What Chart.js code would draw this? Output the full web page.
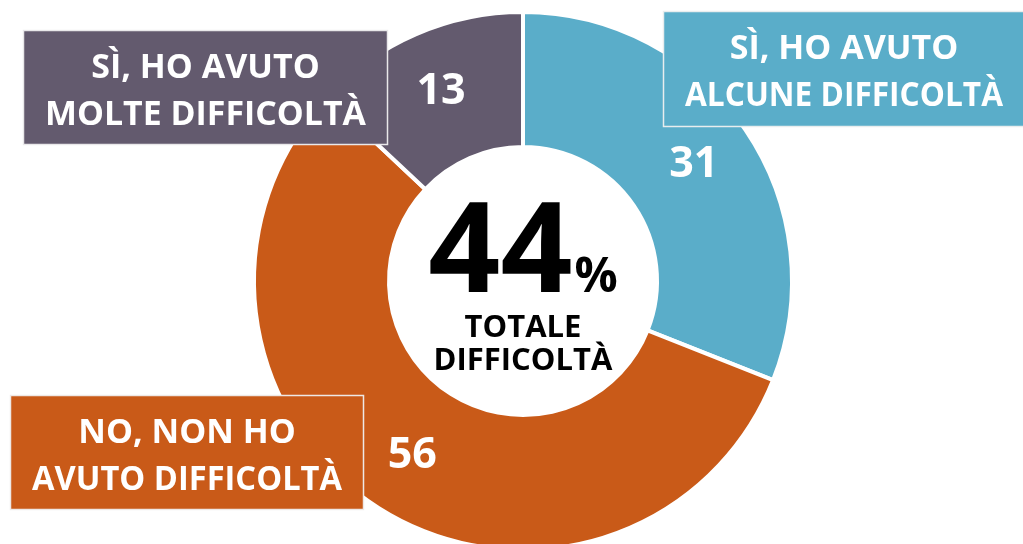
<!DOCTYPE html>
<html>
<head>
<meta charset="utf-8">
<script src="https://cdn.jsdelivr.net/npm/chart.js@4/dist/chart.umd.min.js"></script>
<style>
    html, body { margin: 0; padding: 0; background: #fff; overflow: hidden; }
    #wrap { width: 1023px; height: 544px; overflow: hidden; }
</style>
</head>
<body>
<div id="wrap"><canvas id="donut" width="1023" height="562"></canvas></div>
<script>
// Data
const categories = ['SÌ, HO AVUTO ALCUNE DIFFICOLTÀ', 'NO, NON HO AVUTO DIFFICOLTÀ', 'SÌ, HO AVUTO MOLTE DIFFICOLTÀ'];
const labelLines = [
    ['SÌ, HO AVUTO', 'ALCUNE DIFFICOLTÀ'],
    ['NO, NON HO', 'AVUTO DIFFICOLTÀ'],
    ['SÌ, HO AVUTO', 'MOLTE DIFFICOLTÀ']
];
const values = [31, 56, 13];
const colors = ['#5aadc9', '#c95a18', '#635a6e'];
const totalValue = values[0] + values[2];   // 44
const totalLines = ['TOTALE', 'DIFFICOLTÀ'];

// Label boxes (x, y, w, h) next to the ring
const boxes = [
    { x: 663, y: 11, w: 362, h: 116 },
    { x: 10, y: 395, w: 354, h: 115 },
    { x: 23, y: 30, w: 365, h: 115 }
];

const FONT = '"Open Sans", sans-serif';

const labelPlugin = {
    id: 'labelPlugin',
    afterDraw(chart) {
        const ctx = chart.ctx;
        const meta = chart.getDatasetMeta(0);
        ctx.save();

        // boxes with category names
        boxes.forEach((b, i) => {
            ctx.fillStyle = colors[i];
            ctx.fillRect(b.x, b.y, b.w, b.h);
            ctx.strokeStyle = 'rgba(240,240,240,0.95)';
            ctx.lineWidth = 1.5;
            ctx.strokeRect(b.x + 0.5, b.y + 0.5, b.w - 1, b.h - 1);
            ctx.fillStyle = '#fff';
            ctx.font = 'bold 34px ' + FONT;
            ctx.textAlign = 'center';
            ctx.textBaseline = 'alphabetic';
            const cx = b.x + b.w / 2;
            const mid = b.y + b.h / 2;
            ctx.fillText(labelLines[i][0], cx, mid - 10, b.w - 44);
            ctx.fillText(labelLines[i][1], cx, mid + 37, b.w - 44);
        });

        // values on the slices
        meta.data.forEach((arc, i) => {
            const p = arc.getProps(['x', 'y', 'startAngle', 'endAngle', 'innerRadius', 'outerRadius'], true);
            const mid = (p.startAngle + p.endAngle) / 2;
            const r = (p.innerRadius + p.outerRadius) / 2 + 5;
            ctx.fillStyle = '#fff';
            ctx.font = 'bold 43px ' + FONT;
            ctx.textAlign = 'center';
            ctx.textBaseline = 'middle';
            ctx.fillText(String(values[i]), p.x + Math.cos(mid) * r, p.y + Math.sin(mid) * r);
        });

        // centre total
        const c = meta.data[0].getProps(['x', 'y'], true);
        ctx.fillStyle = '#000';
        ctx.textBaseline = 'alphabetic';
        ctx.font = 'bold 126px ' + FONT;
        const big = String(totalValue);
        const bw = ctx.measureText(big).width;
        ctx.font = 'bold 48px ' + FONT;
        const pw = ctx.measureText('%').width;
        const startX = c.x - (bw + pw + 2) / 2;
        ctx.textAlign = 'left';
        ctx.font = 'bold 126px ' + FONT;
        ctx.fillText(big, startX, c.y + 11);
        ctx.font = 'bold 48px ' + FONT;
        ctx.fillText('%', startX + bw + 2, c.y + 11);
        ctx.textAlign = 'center';
        ctx.font = 'bold 31px ' + FONT;
        ctx.fillText(totalLines[0], c.x, c.y + 56);
        ctx.fillText(totalLines[1], c.x, c.y + 89);
        ctx.restore();
    }
};

new Chart(document.getElementById('donut'), {
    type: 'doughnut',
    data: {
        labels: categories,
        datasets: [{
            data: values,
            backgroundColor: colors,
            borderColor: '#ffffff',
            borderWidth: 4,
            hoverOffset: 0
        }]
    },
    options: {
        responsive: false,
        devicePixelRatio: 1,
        animation: false,
        cutout: 134,
        layout: { padding: { left: 252, right: 229, top: 10, bottom: 10 } },
        plugins: {
            legend: { display: false },
            tooltip: { enabled: false }
        }
    },
    plugins: [labelPlugin]
});
</script>
</body>
</html>
